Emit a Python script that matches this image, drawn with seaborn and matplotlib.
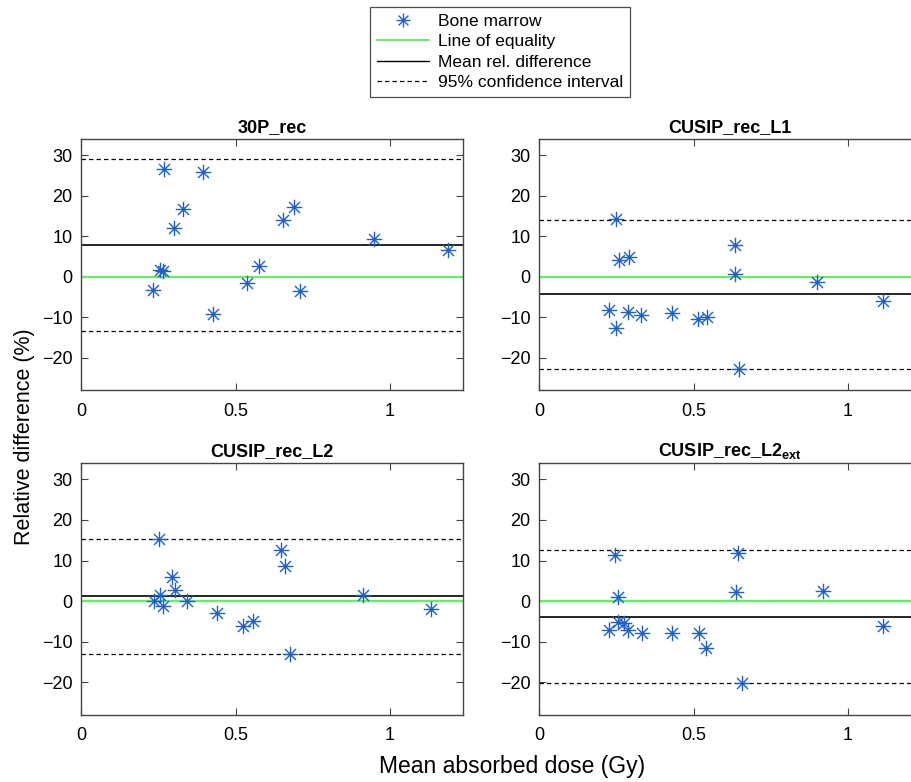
import numpy as np
import matplotlib
matplotlib.use('Agg')
import matplotlib.pyplot as plt
from matplotlib.path import Path
from matplotlib.lines import Line2D
import seaborn as sns

# ==========================================
# DATA
# ==========================================
titles = ['30P_rec', 'CUSIP_rec_L1', 'CUSIP_rec_L2', r'CUSIP_rec_L2$_{\mathbf{ext}}$']

x_30p = [0.270, 0.396, 0.329, 0.302, 0.654, 0.690, 0.949, 1.186,
         0.254, 0.266, 0.233, 0.576, 0.538, 0.709, 0.428]
y_30p = [26.6, 25.9, 16.8, 12.0, 14.1, 17.1, 9.2, 6.7,
         1.6, 1.4, -3.4, 2.7, -1.6, -3.5, -9.2]

x_l1 = [0.249, 0.258, 0.290, 0.633, 0.633, 0.901, 1.114, 0.226,
        0.249, 0.287, 0.330, 0.429, 0.514, 0.543, 0.648]
y_l1 = [14.3, 4.2, 4.9, 7.8, 0.7, -1.3, -6.0, -8.3,
        -12.7, -8.7, -9.4, -9.0, -10.5, -9.9, -22.7]

x_l2 = [0.251, 0.648, 0.660, 0.293, 0.304, 0.255, 0.236, 0.266,
        0.344, 0.914, 0.441, 0.523, 0.555, 0.676, 1.133]
y_l2 = [15.2, 12.6, 8.7, 5.9, 2.7, 1.6, 0.0, -1.2,
        0.0, 1.6, -2.8, -6.1, -4.9, -13.1, -2.0]

x_ext = [0.247, 0.645, 0.255, 0.637, 0.918, 1.114, 0.227, 0.257,
         0.274, 0.289, 0.334, 0.431, 0.519, 0.540, 0.657]
y_ext = [11.3, 11.9, 1.1, 2.3, 2.5, -6.1, -7.0, -5.2,
         -5.4, -7.0, -7.9, -7.9, -7.9, -11.6, -20.2]

mean_diff = [7.8, -4.4, 1.2, -3.9]
ci_upper = [29.1, 14.1, 15.4, 12.7]
ci_lower = [-13.4, -22.8, -13.0, -20.2]

xs = [x_30p, x_l1, x_l2, x_ext]
ys = [y_30p, y_l1, y_l2, y_ext]

# ==========================================
# STYLE
# ==========================================
sns.set_style('ticks')
plt.rcParams['font.family'] = ['Liberation Sans', 'DejaVu Sans']
plt.rcParams['mathtext.fontset'] = 'custom'
plt.rcParams['mathtext.bf'] = 'Liberation Sans:bold'
plt.rcParams['mathtext.rm'] = 'Liberation Sans'
plt.rcParams['text.color'] = 'black'
plt.rcParams['xtick.labelcolor'] = 'black'
plt.rcParams['ytick.labelcolor'] = 'black'

blue = '#1f5fc8'
green = '#66ee66'
frame = '#444444'

# MATLAB-like '*' marker: 4 strokes through the centre
ang = np.deg2rad([0, 45, 90, 135])
verts, codes = [], []
for a in ang:
    verts += [(-np.cos(a), -np.sin(a)), (np.cos(a), np.sin(a))]
    codes += [Path.MOVETO, Path.LINETO]
star = Path(verts, codes)

fig = plt.figure(figsize=(9.12, 7.82), dpi=100)
W, H = 912, 782
# axes boxes in pixels: left, top, right, bottom
boxes = [(81, 139, 463, 390), (539, 139, 921, 390),
         (81, 463, 463, 715), (539, 463, 921, 715)]

for i, (l, t, r, b) in enumerate(boxes):
    ax = fig.add_axes([l / W, 1 - b / H, (r - l) / W, (b - t) / H])
    ax.axhline(0, color=green, lw=1.6, zorder=1)
    ax.axhline(mean_diff[i], color='black', lw=1.2, zorder=1)
    ax.axhline(ci_upper[i], color='black', lw=0.9, ls=(0, (3.5, 2.5)), zorder=1)
    ax.axhline(ci_lower[i], color='black', lw=0.9, ls=(0, (3.5, 2.5)), zorder=1)
    sns.scatterplot(x=xs[i], y=ys[i], ax=ax, marker=star, s=125,
                    color=blue, edgecolor=blue, linewidth=1.0, zorder=3)
    ax.set_xlim(0, 1.236)
    ax.set_ylim(-28, 34)
    ax.set_xticks([0, 0.5, 1])
    ax.set_xticklabels(['0', '0.5', '1'])
    ax.set_yticks([-20, -10, 0, 10, 20, 30])
    ax.tick_params(direction='in', length=5, width=0.8, color=frame,
                   labelsize=13, top=True, right=True, pad=6)
    ax.tick_params(axis='x', pad=9)
    for s in ax.spines.values():
        s.set_color(frame)
        s.set_linewidth(1.0)
    ax.set_title(titles[i], fontsize=13, fontweight='bold', pad=5)

fig.text(25 / W, 1 - 437 / H, 'Relative difference (%)', rotation=90,
         ha='center', va='center', fontsize=15.5)
fig.text(512 / W, 1 - 766 / H, 'Mean absorbed dose (Gy)',
         ha='center', va='center', fontsize=16.5)

handles = [
    Line2D([], [], ls='none', marker=star, markersize=10, color=blue,
           markeredgewidth=1.0),
    Line2D([], [], color=green, lw=1.4),
    Line2D([], [], color='black', lw=1.0),
    Line2D([], [], color='black', lw=0.9, ls=(0, (3.5, 2.5))),
]
labels = ['Bone marrow', 'Line of equality', 'Mean rel. difference',
          '95% confidence interval']
leg = fig.legend(handles, labels, loc='center', bbox_to_anchor=(500 / W, 1 - 52 / H),
                 fontsize=12.5, frameon=True, fancybox=False, handlelength=3.0,
                 handletextpad=0.5, labelspacing=0.3, borderpad=0.4)
leg.get_frame().set_edgecolor('#222222')
leg.get_frame().set_linewidth(0.9)

fig.savefig('out.png', dpi=100, facecolor='white')
